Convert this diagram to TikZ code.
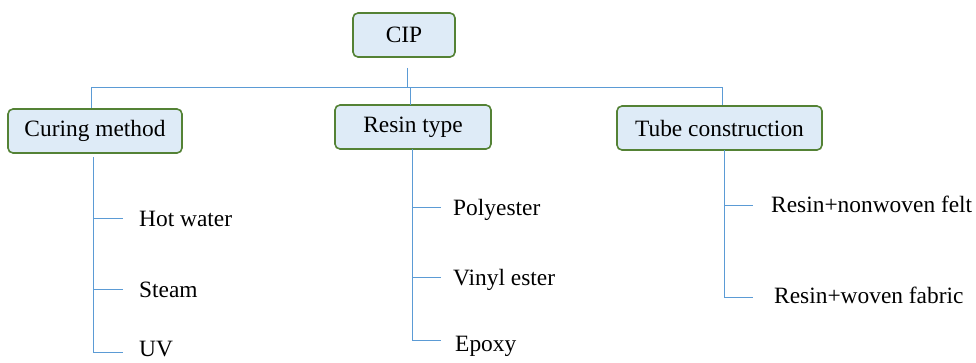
\documentclass[tikz,border=0pt]{standalone}
\usepackage{fontspec}
\setmainfont{Liberation Serif}
\begin{document}
\begin{tikzpicture}[x=1pt,y=-1pt,
  catbox/.style={draw=boxgreen,fill=boxfill,line width=1.6pt,rounded corners=5pt,
    minimum height=44pt,inner sep=0pt,font=\fontsize{23.4}{27}\selectfont},
  leaf/.style={anchor=base west,inner sep=0pt,font=\fontsize{23.4}{27}\selectfont},
  link/.style={draw=linkblue,line width=1pt}]
\definecolor{boxgreen}{HTML}{548235}
\definecolor{boxfill}{HTML}{DEEBF7}
\definecolor{linkblue}{HTML}{5B9BD5}
\useasboundingbox (0,0) rectangle (976,362);
% boxes
\node[catbox,minimum width=102pt] (cip) at (404,35) {CIP};
\node[catbox,minimum width=174pt] (cure) at (95,131) {Curing method};
\node[catbox,minimum width=156pt] (resin) at (413,127) {Resin type};
\node[catbox,minimum width=205pt] (tube) at (719.5,128) {Tube construction};
% leaves
\node[leaf] (hot) at (139,226) {Hot water};
\node[leaf] (steam) at (139,297) {Steam};
\node[leaf] (uv) at (139,356) {UV};
\node[leaf] (poly) at (453,215) {Polyester};
\node[leaf] (vinyl) at (453,285) {Vinyl ester};
\node[leaf] (epoxy) at (455,351) {Epoxy};
\node[leaf] (felt) at (771,212) {Resin+nonwoven felt};
\node[leaf] (fabric) at (774,303) {Resin+woven fabric};
% hub coordinates
\coordinate (hub) at (407,87);
\coordinate (busL) at (91,87);
\coordinate (busR) at (722,87);
% top connectors
\draw[link] ([xshift=3pt,yshift=-10pt]cip.south) -- (hub);
\draw[link] (busL) -- (busR);
\draw[link] (busL) -- (busL |- cure.north);
\draw[link] (410,87) -- (410,105);
\draw[link] (busR) -- (busR |- tube.north);
% curing branches
\coordinate (c0) at (93,157);
\coordinate (c1) at (93,218);
\coordinate (c2) at (93,289);
\coordinate (c3) at (93,352);
\draw[link] (c0) -- (c3);
\draw[link] (c1) -- ++(30,0);
\draw[link] (c2) -- ++(30,0);
\draw[link] (c3) -- ++(30,0);
% resin branches
\coordinate (r0) at (412,149);
\coordinate (r1) at (412,207);
\coordinate (r2) at (412,277);
\coordinate (r3) at (412,340);
\draw[link] (r0) -- (r3);
\draw[link] (r1) -- ++(29,0);
\draw[link] (r2) -- ++(29,0);
\draw[link] (r3) -- ++(29,0);
% tube branches
\coordinate (t0) at (724,150);
\coordinate (t1) at (724,205);
\coordinate (t2) at (724,297);
\draw[link] (t0) -- (t2);
\draw[link] (t1) -- ++(29,0);
\draw[link] (t2) -- ++(29,0);
\end{tikzpicture}
\end{document}
